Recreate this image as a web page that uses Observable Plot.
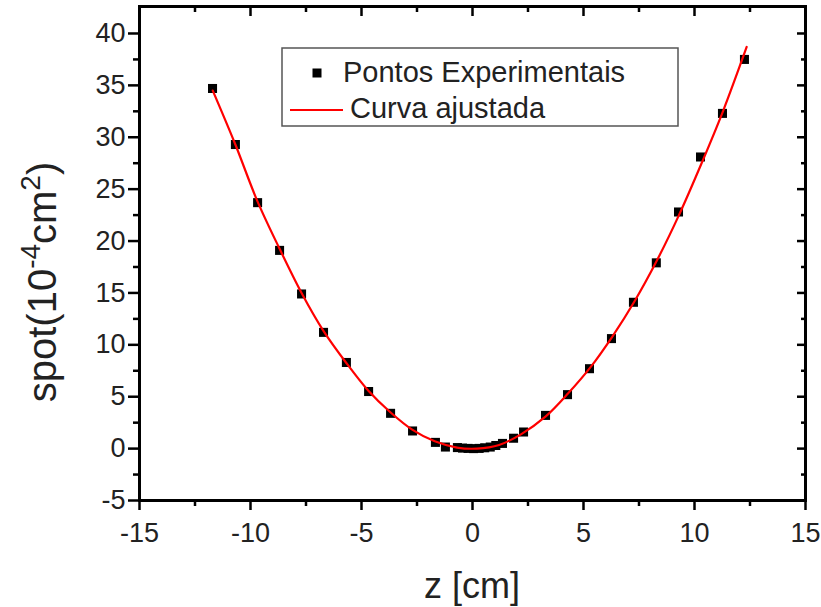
<!DOCTYPE html>
<html><head><meta charset="utf-8">
<script src="https://cdn.jsdelivr.net/npm/d3@7"></script>
<script src="https://cdn.jsdelivr.net/npm/@observablehq/plot@0.6"></script>
<style>body{margin:0;background:#fff;} #chart{width:821px;height:607px;}</style>
</head><body><div id="chart"></div>
<script>
const zPoints = [-11.71, -10.68, -9.68, -8.69, -7.70, -6.71, -5.68, -4.68, -3.69, -2.70, -1.67, -1.22, -0.68, -0.45, -0.20, 0.05, 0.30, 0.55, 0.80, 1.05, 1.35, 1.85, 2.30, 3.29, 4.28, 5.27, 6.26, 7.25, 8.28, 9.28, 10.27, 11.26, 12.25];
const spotPoints = [34.7, 29.3, 23.7, 19.1, 14.9, 11.2, 8.3, 5.5, 3.4, 1.7, 0.6, 0.15, 0.1, 0.05, 0.02, 0.0, 0.02, 0.08, 0.15, 0.3, 0.5, 1.0, 1.6, 3.2, 5.2, 7.7, 10.6, 14.1, 17.9, 22.8, 28.1, 32.3, 37.5];
// Fitted curve
const zCurve = [-11.7, -10.7, -9.7, -8.7, -7.7, -6.7, -5.7, -4.7, -3.7, -2.7, -1.7, -0.7, 0.2, 1.2, 2.2, 3.3, 4.3, 5.3, 6.3, 7.3, 8.3, 9.3, 10.3, 11.3, 12.35];
const spotCurve = [34.5, 29.4, 23.9, 19.3, 15.0, 11.3, 8.3, 5.6, 3.5, 1.8, 0.7, 0.1, 0.0, 0.35, 1.4, 3.1, 5.3, 7.8, 10.8, 14.2, 18.1, 22.5, 27.4, 32.6, 38.7];
// Ticks
const xMajorTicks = [-15, -10, -5, 0, 5, 10, 15];
const xMinorTicks = [-12.5, -7.5, -2.5, 2.5, 7.5, 12.5];
const yMajorTicks = [-5, 0, 5, 10, 15, 20, 25, 30, 35, 40];
const yMinorTicks = [-2.5, 2.5, 7.5, 12.5, 17.5, 22.5, 27.5, 32.5, 37.5];
const legendLabels = ["Pontos Experimentais", "Curva ajustada"];
const xTitle = "z [cm]";

const points = zPoints.map((z, i) => ({z, spot: spotPoints[i]}));
const curve = zCurve.map((z, i) => ({z, spot: spotCurve[i]}));

const font = "'Liberation Sans', Arial, sans-serif";
const noText = () => "";
const tickOpts = {stroke: "#000", strokeWidth: 2.5, label: null};

const plot = Plot.plot({
  width: 821, height: 607,
  marginLeft: 139, marginRight: 16, marginTop: 6, marginBottom: 107,
  style: {fontFamily: font, fontSize: "27px", color: "#222", background: "#fff"},
  x: {domain: [-15, 15]},
  y: {domain: [-5, 42.6]},
  marks: [
    Plot.axisX(xMajorTicks, {...tickOpts, anchor: "bottom", tickSize: 10, tickPadding: 12, tickFormat: d => String(d), fill: "#222"}),
    Plot.axisX(xMinorTicks, {...tickOpts, anchor: "bottom", tickSize: 6, tickFormat: noText}),
    Plot.axisX(xMajorTicks, {...tickOpts, anchor: "top", tickSize: -9, tickFormat: noText}),
    Plot.axisX(xMinorTicks, {...tickOpts, anchor: "top", tickSize: -5, tickFormat: noText}),
    Plot.axisY(yMajorTicks, {...tickOpts, anchor: "left", tickSize: 11, tickPadding: 3, tickFormat: d => String(d), fill: "#222"}),
    Plot.axisY(yMinorTicks, {...tickOpts, anchor: "left", tickSize: 6, tickFormat: noText}),
    Plot.axisY(yMajorTicks, {...tickOpts, anchor: "right", tickSize: -9, tickFormat: noText}),
    Plot.axisY(yMinorTicks, {...tickOpts, anchor: "right", tickSize: -5, tickFormat: noText}),
    Plot.dot(points, {x: "z", y: "spot", symbol: "square", r: 5.1, fill: "#000", stroke: null}),
    Plot.line(curve, {x: "z", y: "spot", stroke: "#ff0000", strokeWidth: 2.2, curve: "catmull-rom"}),
    Plot.frame({stroke: "#000", strokeWidth: 3})
  ]
});
document.getElementById("chart").appendChild(plot);

const svg = d3.select(plot);
// Axis titles
svg.append("text").attr("x", 472).attr("y", 598).attr("text-anchor", "middle")
  .attr("font-family", font).attr("font-size", 36).attr("fill", "#222").text(xTitle);
const yt = svg.append("text").attr("transform", "translate(56,282) rotate(-90)").attr("text-anchor", "middle")
  .attr("font-family", font).attr("font-size", 40).attr("fill", "#222");
yt.append("tspan").text("spot(10");
yt.append("tspan").attr("font-size", 28).attr("dy", -16).text("-4");
yt.append("tspan").attr("dy", 16).text("cm");
yt.append("tspan").attr("font-size", 28).attr("dy", -16).text("2");
yt.append("tspan").attr("dy", 16).text(")");

// Legend
const lg = svg.append("g").attr("text-anchor", "start");
lg.append("rect").attr("x", 282).attr("y", 48).attr("width", 396).attr("height", 78)
  .attr("fill", "#fff").attr("stroke", "#555").attr("stroke-width", 1.5);
lg.append("rect").attr("x", 312.5).attr("y", 68.5).attr("width", 9).attr("height", 9).attr("fill", "#000");
lg.append("text").attr("x", 343).attr("y", 82).attr("text-anchor", "start").attr("font-family", font).attr("font-size", 29).attr("fill", "#222").text(legendLabels[0]);
lg.append("line").attr("x1", 290).attr("x2", 343).attr("y1", 110).attr("y2", 110).attr("stroke", "#ff0000").attr("stroke-width", 2);
lg.append("text").attr("x", 350).attr("y", 118).attr("text-anchor", "start").attr("font-family", font).attr("font-size", 29).attr("fill", "#222").text(legendLabels[1]);
</script>
</body></html>
